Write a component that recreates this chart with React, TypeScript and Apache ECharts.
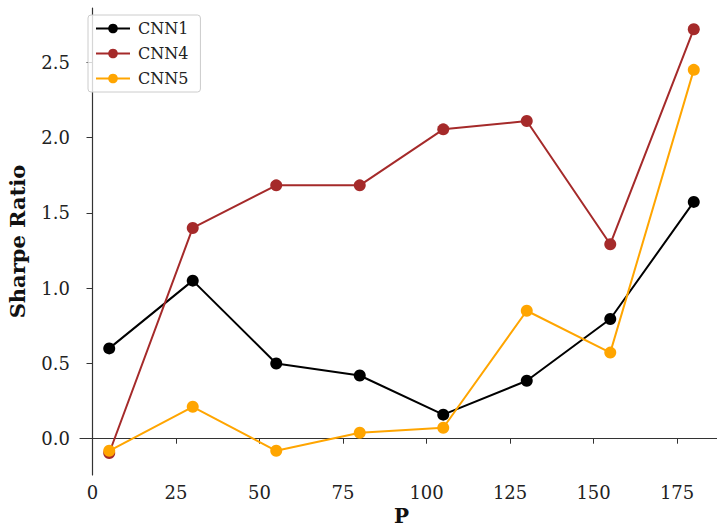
import React, { useEffect, useRef } from "react";
import * as echarts from "echarts";

const pValues = [5, 30, 55, 80, 105, 130, 155, 180];
const cnn1 = [0.6, 1.05, 0.5, 0.42, 0.16, 0.385, 0.795, 1.573];
const cnn4 = [-0.095, 1.4, 1.683, 1.683, 2.055, 2.11, 1.292, 2.72];
const cnn5 = [-0.08, 0.212, -0.08, 0.04, 0.073, 0.85, 0.572, 2.45];
const xTicks = [0, 25, 50, 75, 100, 125, 150, 175];
const yTicks = [0, 0.5, 1.0, 1.5, 2.0, 2.5];

const seriesNames = ["CNN1", "CNN4", "CNN5"];
const seriesColors = ["#000000", "#a52a2a", "#ffa500"];
const seriesData = [cnn1, cnn4, cnn5];

const FONT = "DejaVu Serif";

export default function App() {
  const ref = useRef<HTMLDivElement>(null);
  useEffect(() => {
    document.body.style.margin = "0";
    const chart = echarts.init(ref.current!, null, { renderer: "svg" });
    chart.setOption({
      animation: false,
      backgroundColor: "#ffffff",
      textStyle: { fontFamily: FONT },
      grid: { left: 80, right: -6, top: 8, bottom: 54, containLabel: false, outerBoundsMode: "none" },
      legend: {
        orient: "vertical",
        left: 88,
        top: 15,
        padding: [5, 12, 5, 7],
        itemGap: 8,
        itemWidth: 34,
        itemHeight: 12,
        borderColor: "#cccccc",
        borderWidth: 1,
        borderRadius: 3,
        backgroundColor: "rgba(255,255,255,0.8)",
        textStyle: { fontFamily: FONT, fontSize: 16, color: "#222", lineHeight: 17, padding: [0, 0, 0, 3] },
        data: seriesNames,
      },
      xAxis: {
        type: "value",
        min: -3.75,
        max: 188.75,
        name: "P",
        nameLocation: "middle",
        nameGap: 30,
        nameTextStyle: { fontFamily: FONT, fontWeight: "bold", fontSize: 20, color: "#111" },
        axisLine: { show: true, lineStyle: { color: "#333", width: 1.2 } },
        axisTick: { show: true, inside: false, length: 5, lineStyle: { color: "#333" }, customValues: xTicks },
        axisLabel: {
          fontFamily: FONT,
          fontSize: 18,
          color: "#222",
          margin: 8,
          customValues: xTicks,
          formatter: (v: number) => String(v),
        },
        splitLine: { show: false },
      },
      yAxis: {
        type: "value",
        min: -0.241,
        max: 2.861,
        name: "Sharpe Ratio",
        nameLocation: "middle",
        nameGap: 52,
        nameRotate: 90,
        nameTextStyle: { fontFamily: FONT, fontWeight: "bold", fontSize: 21, color: "#111" },
        axisLine: { show: true, lineStyle: { color: "#333", width: 1.2 } },
        axisTick: { show: true, inside: false, length: 6, lineStyle: { color: "#333" }, customValues: yTicks },
        axisLabel: {
          fontFamily: FONT,
          fontSize: 18,
          color: "#222",
          margin: 10,
          customValues: yTicks,
          formatter: (v: number) => v.toFixed(1),
        },
        splitLine: { show: false },
      },
      series: seriesNames.map((name, i) => ({
        name,
        type: "line",
        data: pValues.map((p, j) => [p, seriesData[i][j]]),
        symbol: "circle",
        symbolSize: 12,
        showSymbol: true,
        color: seriesColors[i],
        lineStyle: { width: 2, color: seriesColors[i] },
        itemStyle: { color: seriesColors[i] },
        z: 2 + i,
      })),
    });
    return () => chart.dispose();
  }, []);
  return <div ref={ref} style={{ width: 717, height: 529 }} />;
}
